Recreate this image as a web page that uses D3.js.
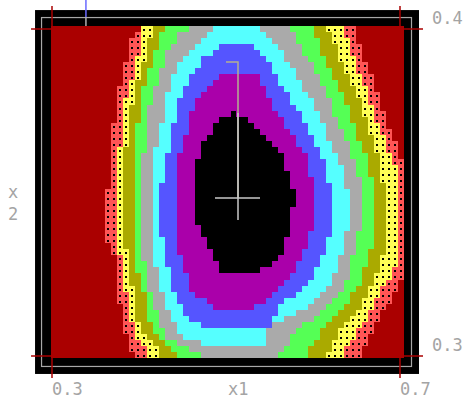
<!DOCTYPE html>
<html lang="en">
<head>
<meta charset="UTF-8">
<title>Contour grid</title>
<script src="https://d3js.org/d3.v7.min.js"></script>
<style>
    body{margin:0;background:#fff;}
    svg{display:block;}
    text{font-family:"DejaVu Sans Mono",monospace;font-size:17px;fill:#a4a4a4;}
</style>
</head>
<body>
<svg width="466" height="398"></svg>
<script>
    // axis ticks
    const x1Ticks = [0.3, 0.7]
    const x2Ticks = [0.3, 0.4]
    // extent and resolution of the sampled field
    const gridX1 = [0.2989, 0.7046]
    const gridX2 = [0.2994, 0.4009]
    const gridSize = [59, 55]

    // band colours from outside to centre
    const bandColors = ["#aa0000","#ff5555","#ffff55","#aaaa00","#55ff55","#aaaaaa","#55ffff","#5555ff","#aa00aa","#000000"]
    const dottedBands = [1, 2]

    // contour outlines, [x1, x2]
    const contour1 = [[0.4046,0.4028],[0.4046,0.4000],[0.3920,0.3979],[0.3862,0.3914],[0.3805,0.3853],[0.3747,0.3780],[0.3690,0.3688],[0.3690,0.3569],[0.3621,0.3498],[0.3621,0.3361],[0.3724,0.3303],[0.3747,0.3202],[0.3805,0.3119],[0.3862,0.3058],[0.3931,0.3009],[0.3931,0.2982],
        [0.6552,0.2982],[0.6552,0.3009],[0.6690,0.3080],[0.6839,0.3150],[0.7000,0.3223],[0.7115,0.3248],[0.7115,0.3569],[0.7000,0.3609],[0.6805,0.3755],[0.6655,0.3862],[0.6563,0.3933],[0.6471,0.4006],[0.6471,0.4028]]
    const contour2 = [[0.4046,0.4028],[0.4046,0.3979],[0.3977,0.3914],[0.3920,0.3853],[0.3839,0.3780],[0.3805,0.3688],[0.3747,0.3587],[0.3724,0.3498],[0.3747,0.3407],[0.3782,0.3303],[0.3839,0.3202],[0.3897,0.3119],[0.3977,0.3058],[0.4103,0.3009],[0.4103,0.2982],
        [0.6356,0.2982],[0.6356,0.3009],[0.6529,0.3080],[0.6690,0.3150],[0.6839,0.3223],[0.6908,0.3248],[0.6977,0.3303],[0.6977,0.3569],[0.6885,0.3609],[0.6690,0.3755],[0.6540,0.3862],[0.6448,0.3933],[0.6356,0.4006],[0.6356,0.4028]]
    const contour3 = [[0.4161,0.4028],[0.4161,0.4000],[0.4126,0.3979],[0.4069,0.3914],[0.3989,0.3853],[0.3920,0.3780],[0.3874,0.3688],[0.3816,0.3587],[0.3805,0.3498],[0.3805,0.3407],[0.3862,0.3303],[0.3920,0.3202],[0.3977,0.3119],[0.4069,0.3058],[0.4241,0.3009],[0.4241,0.2982],
        [0.6172,0.2982],[0.6172,0.3009],[0.6299,0.3080],[0.6529,0.3150],[0.6701,0.3223],[0.6805,0.3303],[0.6862,0.3407],[0.6839,0.3495],[0.6747,0.3609],[0.6575,0.3755],[0.6391,0.3862],[0.6276,0.3933],[0.6172,0.4006],[0.6172,0.4028]]
    const contour4 = [[0.4322,0.4028],[0.4322,0.4000],[0.4241,0.3979],[0.4161,0.3914],[0.4092,0.3853],[0.4011,0.3780],[0.3977,0.3688],[0.3931,0.3587],[0.3920,0.3498],[0.3920,0.3407],[0.3931,0.3303],[0.4046,0.3202],[0.4103,0.3119],[0.4207,0.3058],[0.4437,0.3009],[0.4437,0.2982],
        [0.5920,0.2982],[0.5920,0.3009],[0.6115,0.3080],[0.6345,0.3150],[0.6552,0.3223],[0.6644,0.3303],[0.6724,0.3407],[0.6724,0.3495],[0.6609,0.3609],[0.6402,0.3755],[0.6230,0.3862],[0.6103,0.3933],[0.6000,0.4006],[0.6000,0.4028]]
    const contour5 = [[0.4552,0.4028],[0.4552,0.4000],[0.4448,0.3979],[0.4299,0.3914],[0.4218,0.3853],[0.4126,0.3780],[0.4092,0.3688],[0.4034,0.3587],[0.3989,0.3498],[0.3989,0.3407],[0.4046,0.3303],[0.4126,0.3202],[0.4207,0.3119],[0.4299,0.3058],[0.4506,0.3028],[0.4736,0.3009],[0.4736,0.2982],
        [0.5609,0.2982],[0.5609,0.3009],[0.5839,0.3080],[0.6149,0.3150],[0.6379,0.3223],[0.6460,0.3303],[0.6552,0.3407],[0.6575,0.3495],[0.6460,0.3609],[0.6230,0.3755],[0.6046,0.3862],[0.5885,0.3933],[0.5724,0.4006],[0.5724,0.4028]]
    const contour6 = [[0.4851,0.4028],[0.4851,0.4000],[0.4782,0.3979],[0.4506,0.3914],[0.4391,0.3853],[0.4299,0.3780],[0.4241,0.3688],[0.4149,0.3587],[0.4126,0.3498],[0.4126,0.3407],[0.4161,0.3303],[0.4264,0.3202],[0.4356,0.3119],[0.4506,0.3058],[0.4782,0.3031],
        [0.5425,0.3031],[0.5460,0.3080],[0.5920,0.3150],[0.6230,0.3223],[0.6322,0.3303],[0.6414,0.3407],[0.6414,0.3495],[0.6287,0.3609],[0.6034,0.3755],[0.5805,0.3862],[0.5621,0.3933],[0.5368,0.4006],[0.5368,0.4028]]
    const contour7 = [[0.4954,0.3948],[0.4736,0.3914],[0.4586,0.3853],[0.4448,0.3780],[0.4379,0.3688],[0.4299,0.3587],[0.4241,0.3498],[0.4241,0.3407],[0.4299,0.3303],[0.4391,0.3202],[0.4529,0.3119],[0.4759,0.3089],
        [0.5494,0.3089],[0.5609,0.3150],[0.5954,0.3223],[0.6115,0.3303],[0.6230,0.3407],[0.6230,0.3495],[0.6103,0.3609],[0.5828,0.3755],[0.5563,0.3862],[0.5414,0.3933],[0.5276,0.3948]]
    const contour8 = [[0.4908,0.3859],[0.4621,0.3780],[0.4552,0.3688],[0.4437,0.3587],[0.4437,0.3498],[0.4437,0.3407],[0.4471,0.3303],[0.4586,0.3202],[0.4874,0.3150],
        [0.5345,0.3150],[0.5690,0.3223],[0.5885,0.3303],[0.6000,0.3407],[0.6034,0.3495],[0.5920,0.3609],[0.5575,0.3755],[0.5368,0.3859]]
    const contour9 = [[0.5069,0.3743],[0.4931,0.3722],[0.4736,0.3661],[0.4621,0.3560],[0.4621,0.3498],[0.4667,0.3407],[0.4851,0.3303],[0.4954,0.3257],
        [0.5368,0.3257],[0.5655,0.3303],[0.5747,0.3407],[0.5805,0.3495],[0.5655,0.3609],[0.5540,0.3657],[0.5299,0.3709],[0.5138,0.3743]]
    const contours = [contour1, contour2, contour3, contour4, contour5, contour6, contour7, contour8, contour9]

    // search path ending in the marked minimum
    const pathX1 = [0.5000, 0.5138, 0.5138]
    const pathX2 = [0.3899, 0.3899, 0.3483]
    // marker above the plot
    const markX1 = 0.339

    const svg = d3.select("svg")
    const xScale = d3.scaleLinear().domain([0.3, 0.7]).range([52, 400])
    const yScale = d3.scaleLinear().domain([0.3, 0.4]).range([356, 29])

    const plotLeft = xScale(gridX1[0]), plotRight = xScale(gridX1[1])
    const plotTop = yScale(gridX2[1]), plotBottom = yScale(gridX2[0])

    // frame
    svg.append("rect").attr("x", plotLeft - 16).attr("y", plotTop - 16)
        .attr("width", plotRight - plotLeft + 31).attr("height", plotBottom - plotTop + 32).attr("fill", "black")
    svg.append("rect").attr("x", plotLeft - 9.5).attr("y", plotTop - 8.5)
        .attr("width", plotRight - plotLeft + 17).attr("height", plotBottom - plotTop + 17)
        .attr("fill", "none").attr("stroke", "#a8a8a8").attr("stroke-width", 1.2)

    // cells
    const dx = (gridX1[1] - gridX1[0]) / gridSize[0]
    const dy = (gridX2[1] - gridX2[0]) / gridSize[1]
    const cells = []
    for (let i = 0; i < gridSize[0]; i++) {
        for (let j = 0; j < gridSize[1]; j++) {
            const c = [gridX1[0] + (i + .5) * dx, gridX2[0] + (j + .5) * dy]
            let level = 0
            contours.forEach((poly, k) => { if (d3.polygonContains(poly, c)) level = k + 1 })
            const x0 = Math.round(xScale(gridX1[0] + i * dx)), x1 = Math.round(xScale(gridX1[0] + (i + 1) * dx))
            const y0 = Math.round(yScale(gridX2[0] + (j + 1) * dy)), y1 = Math.round(yScale(gridX2[0] + j * dy))
            cells.push({x: x0, y: y0, w: x1 - x0, h: y1 - y0, level})
        }
    }
    const grid = svg.append("g").attr("shape-rendering", "crispEdges")
    grid.selectAll("rect").data(cells).enter().append("rect")
        .attr("x", d => d.x).attr("y", d => d.y)
        .attr("width", d => d.w).attr("height", d => d.h)
        .attr("fill", d => bandColors[d.level])
    grid.append("g").selectAll("rect")
        .data(cells.filter(d => dottedBands.includes(d.level))).enter().append("rect")
        .attr("x", d => d.x + 2).attr("y", d => d.y + 3)
        .attr("width", 1.5).attr("height", 1.5).attr("fill", "black")

    // path and marker
    const pts = pathX1.map((v, i) => [v, pathX2[i]])
    svg.append("path")
        .attr("d", d3.line().x(d => xScale(d[0])).y(d => yScale(d[1]))(pts))
        .attr("fill", "none").attr("stroke", "#b4b090").attr("stroke-width", 1.5)
    const end = pts[pts.length - 1]
    const cx = xScale(end[0]), cy = yScale(end[1])
    svg.append("path")
        .attr("d", `M${cx - 23},${cy}H${cx + 22}M${cx},${cy - 85}V${cy + 22}`)
        .attr("fill", "none").attr("stroke", "#c8c8c8").attr("stroke-width", 1.5)

    svg.append("line").attr("x1", xScale(markX1)).attr("x2", xScale(markX1))
        .attr("y1", 0).attr("y2", plotTop - 9).attr("stroke", "#6a6aff").attr("stroke-width", 1.5)
    svg.append("line").attr("x1", xScale(markX1)).attr("x2", xScale(markX1))
        .attr("y1", plotTop - 9).attr("y2", plotTop).attr("stroke", "#b0b0b0").attr("stroke-width", 1.5)

    // ticks
    const tickColor = "#aa0000"
    x1Ticks.forEach(t => {
        svg.append("line").attr("x1", xScale(t)).attr("x2", xScale(t)).attr("y1", plotTop - 20).attr("y2", plotTop)
            .attr("stroke", tickColor).attr("stroke-width", 1.5)
        svg.append("line").attr("x1", xScale(t)).attr("x2", xScale(t)).attr("y1", plotBottom).attr("y2", plotBottom + 20)
            .attr("stroke", tickColor).attr("stroke-width", 1.5)
        svg.append("text").attr("x", xScale(t)).attr("y", 395).text(t.toFixed(1))
    })
    x2Ticks.forEach(t => {
        svg.append("line").attr("x1", plotLeft - 20).attr("x2", xScale(0.3)).attr("y1", yScale(t)).attr("y2", yScale(t))
            .attr("stroke", tickColor).attr("stroke-width", 1.5)
        svg.append("line").attr("x1", plotRight).attr("x2", plotRight + 19).attr("y1", yScale(t)).attr("y2", yScale(t))
            .attr("stroke", tickColor).attr("stroke-width", 1.5)
        svg.append("text").attr("x", 432).attr("y", yScale(t) - 5).text(t.toFixed(1))
    })

    // axis titles
    svg.append("text").attr("x", 228).attr("y", 395).text("x1")
    svg.append("text").attr("x", 8).attr("y", 198).text("x")
    svg.append("text").attr("x", 8).attr("y", 220).text("2")
</script>
</body>
</html>
